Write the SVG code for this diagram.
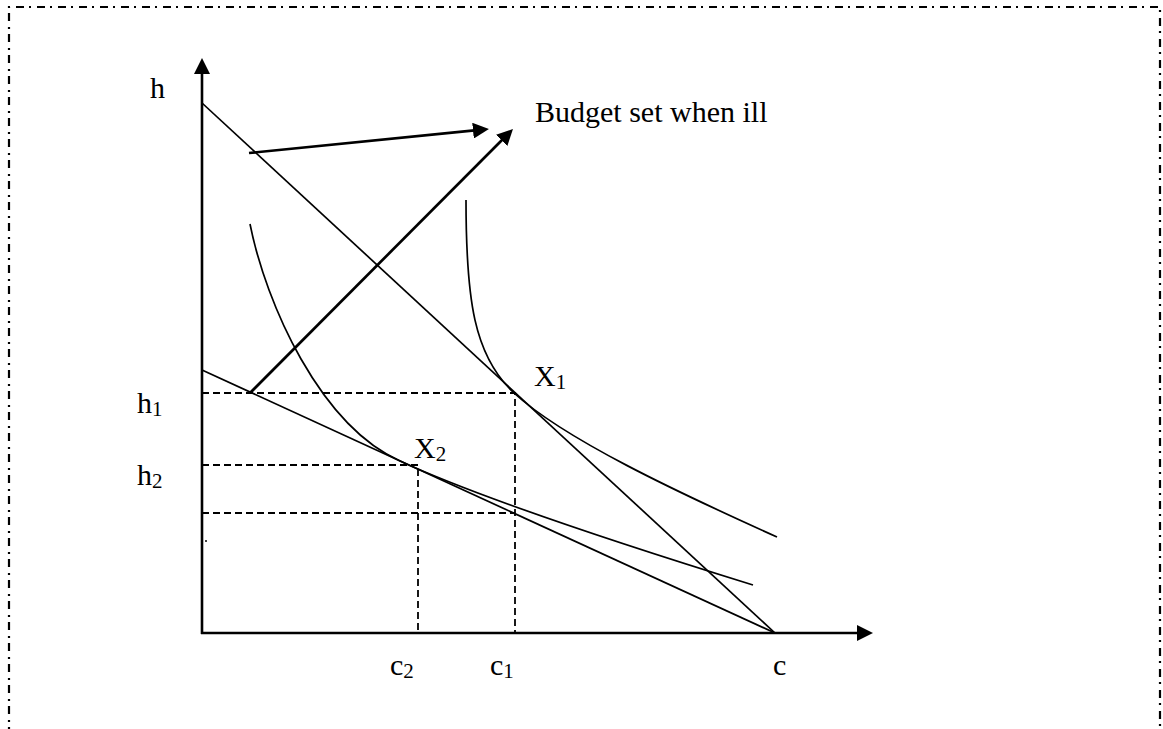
<svg xmlns="http://www.w3.org/2000/svg" width="1163" height="729" viewBox="0 0 1163 729">
<style>
.frame{fill:none;stroke:#000;stroke-width:2.2;stroke-dasharray:8 5 2 6}
.axis{fill:none;stroke:#000;stroke-width:2.6}
.line{fill:none;stroke:#000;stroke-width:1.7}
.curve{fill:none;stroke:#000;stroke-width:1.7}
.arrow{fill:none;stroke:#000;stroke-width:2.7}
.dash{fill:none;stroke:#000;stroke-width:1.8;stroke-dasharray:7 4}
text{font-family:"Liberation Serif","Times New Roman",serif;font-size:30px;fill:#000}
.sub{font-size:21px}
</style>
<defs>
<marker id="ah" markerUnits="userSpaceOnUse" viewBox="0 0 16 16" markerWidth="16" markerHeight="16" refX="4" refY="8" orient="auto">
<path d="M0,0 L16,8 L0,16 z" fill="#000"/>
</marker>
</defs>
<g id="frame">
<path class="frame" d="M9,735 L9,7 L1160,7 L1160,735"/>
</g>
<g id="connectors">
<line class="axis" x1="202" y1="634" x2="202" y2="70" marker-end="url(#ah)"/>
<line class="axis" x1="201" y1="633" x2="861" y2="633" marker-end="url(#ah)"/>
<line class="line" x1="202" y1="103" x2="775" y2="633"/>
<line class="line" x1="202" y1="370" x2="775" y2="633"/>
<line class="arrow" x1="249" y1="153" x2="477" y2="130.2" marker-end="url(#ah)"/>
<line class="arrow" x1="250" y1="393" x2="504.5" y2="137.5" marker-end="url(#ah)"/>
<path class="dash" d="M202,393 H515 V633"/>
<path class="dash" d="M202,465 H418 V633"/>
<path class="dash" d="M202,513 H515"/>
</g>
<g id="curve1">
<path class="curve" d="M466,200 C466,300 474,356 514,393 C564,439 677,492 777,537"/>
</g>
<g id="curve2">
<path class="curve" d="M250,224 C266,304 320,425 400,461 C480,498 640,550 753,585"/>
</g>
<g id="dot">
<circle cx="206" cy="541" r="1" fill="#000"/>
</g>
<g id="labels">
<text x="535" y="122">Budget set when ill</text>
<text x="150" y="98">h</text>
<text x="137" y="413">h<tspan class="sub" dy="3">1</tspan></text>
<text x="137" y="485">h<tspan class="sub" dy="3">2</tspan></text>
<text x="534" y="386">X<tspan class="sub" dy="3">1</tspan></text>
<text x="414" y="458">X<tspan class="sub" dy="3">2</tspan></text>
<text x="390" y="675">c<tspan class="sub" dy="3">2</tspan></text>
<text x="490" y="675">c<tspan class="sub" dy="3">1</tspan></text>
<text x="773" y="675">c</text>
</g>
</svg>
